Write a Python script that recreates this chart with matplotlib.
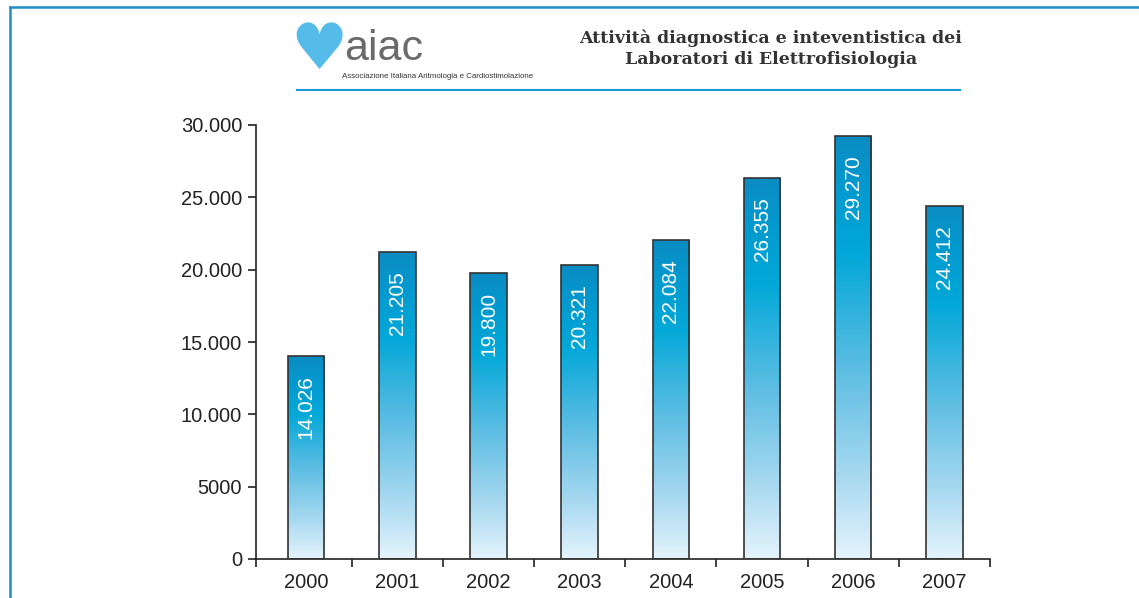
import numpy as np
import matplotlib
matplotlib.use('Agg')
import matplotlib.pyplot as plt
from matplotlib.colors import LinearSegmentedColormap
from matplotlib.lines import Line2D

years = ['2000', '2001', '2002', '2003', '2004', '2005', '2006', '2007']
values = [14026, 21205, 19800, 20321, 22084, 26355, 29270, 24412]
value_labels = ['14.026', '21.205', '19.800', '20.321', '22.084', '26.355', '29.270', '24.412']
yticks = [0, 5000, 10000, 15000, 20000, 25000, 30000]
ytick_labels = ['0', '5000', '10.000', '15.000', '20.000', '25.000', '30.000']

plt.rcParams['font.family'] = ['Liberation Sans', 'DejaVu Sans']

fig = plt.figure(figsize=(11.39, 5.98), dpi=100)
fig.patch.set_facecolor('white')
ax = fig.add_axes([256/1139, 1-559/598, (990-256)/1139, (559-125)/598])

# gradient for bars: dark blue on top, cyan, then fading to pale at bottom
cmap = LinearSegmentedColormap.from_list('bar', [
    (0.0, '#0b8cc2'), (0.12, '#0399cf'), (0.28, '#02a8d8'),
    (0.55, '#5cbde3'), (0.8, '#a6d8f0'), (1.0, '#e4f4fc')])
grad = np.linspace(0, 1, 256).reshape(-1, 1)

x = np.arange(len(years))
bars = ax.bar(x, values, width=0.4, color='none', edgecolor='#333333', linewidth=1.2, zorder=3)
for b in bars:
    x0, w, h = b.get_x(), b.get_width(), b.get_height()
    im = ax.imshow(grad, cmap=cmap, aspect='auto', extent=(x0, x0 + w, 0, h),
                   origin='upper', zorder=2)
    im.set_clip_path(b)

for xi, v, lab in zip(x, values, value_labels):
    ax.annotate(lab, (xi, v), xytext=(0, -14), textcoords='offset points',
                rotation=90, ha='center', va='top', color='white', fontsize=15, zorder=4)

ax.set_xlim(-0.55, len(years) - 0.5)
ax.set_ylim(0, 30000)
ax.set_yticks(yticks)
ax.set_yticklabels(ytick_labels)
ax.set_xticks(x)
ax.set_xticklabels(years)
ax.set_xticks([-0.55] + list(np.arange(0.5, len(years))), minor=True)
ax.tick_params(axis='x', which='major', length=0, pad=10, labelsize=14.5, colors='#222222')
ax.tick_params(axis='x', which='minor', length=6, width=1.2, color='#222222')
ax.tick_params(axis='y', length=6, width=1.2, pad=4, labelsize=14.5, colors='#222222')
for s in ['top', 'right']:
    ax.spines[s].set_visible(False)
for s in ['left', 'bottom']:
    ax.spines[s].set_linewidth(1.2)
    ax.spines[s].set_color('#222222')

# page border
fig.add_artist(Line2D([10/1139, 1], [1-7/598, 1-7/598], color='#1f8dc6', lw=1.8))
fig.add_artist(Line2D([10/1139, 10/1139], [0, 1-7/598], color='#1f8dc6', lw=1.8))

# logo
fig.text(319/1139, 1-51/598, '\u2665', family='DejaVu Sans', fontsize=46, color='#55bbe8',
         ha='center', va='center')
fig.text(344/1139, 1-49/598, 'aiac', fontsize=31, color='#6a6a6a', ha='left', va='center')
fig.text(342/1139, 1-76/598, 'Associazione Italiana Aritmologia e Cardiostimolazione',
         fontsize=5.65, color='#333333', ha='left', va='center')
fig.add_artist(Line2D([297/1139, 960/1139], [1-90/598, 1-90/598], color='#1a9ad6', lw=1.5))

# title
fig.text(771/1139, 1-49/598, 'Attività diagnostica e inteventistica dei\nLaboratori di Elettrofisiologia',
         family='DejaVu Serif', fontweight='bold', fontsize=12.5, color='#333333',
         ha='center', va='center', linespacing=1.3)

fig.savefig('out.png', dpi=100)
